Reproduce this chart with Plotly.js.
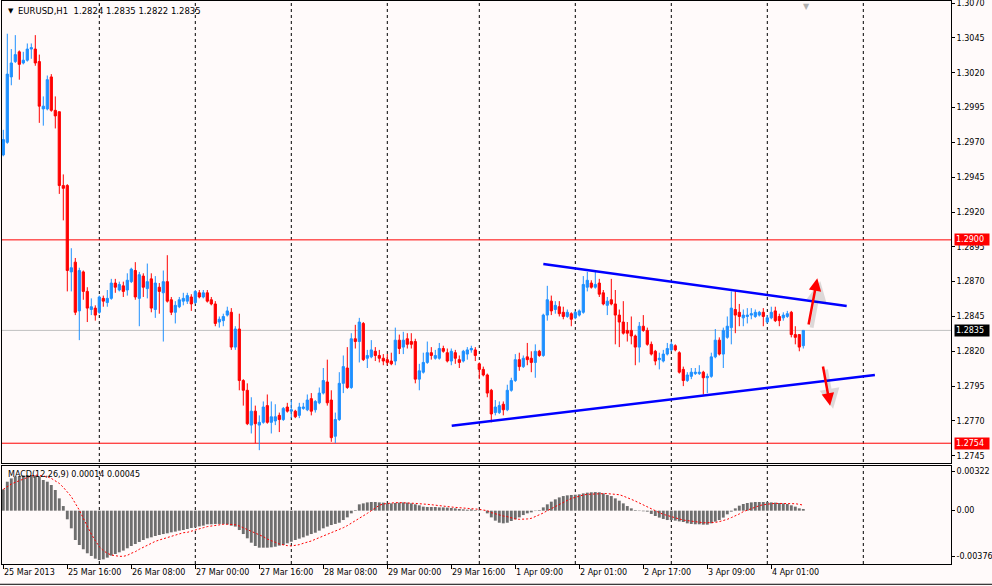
<!DOCTYPE html>
<html><head><meta charset="utf-8">
<script src="https://cdn.plot.ly/plotly-3.0.1.min.js"></script>
<style>html,body{margin:0;padding:0;background:#fffafa;}#chart{width:992px;height:586px;}</style>
</head><body><div id="chart"></div>
<script>
// ---- EURUSD H1 candles (25 Mar 2013 00:00 .. 4 Apr 2013 09:00) ----
const openP = [1.2961,1.2970,1.3017,1.3028,1.3035,1.3027,1.3029,1.3037,1.3037,1.3028,
1.2994,1.2994,1.3017,1.2993,1.2992,1.2939,1.2939,1.2877,1.2884,1.2849,
1.2877,1.2863,1.2850,1.2851,1.2848,1.2858,1.2855,1.2858,1.2869,1.2864,
1.2867,1.2864,1.2870,1.2878,1.2858,1.2874,1.2865,1.2872,1.2850,1.2866,
1.2862,1.2870,1.2857,1.2848,1.2852,1.2856,1.2856,1.2859,1.2855,1.2862,
1.2859,1.2862,1.2857,1.2854,1.2841,1.2842,1.2846,1.2848,1.2823,1.2836,
1.2799,1.2792,1.2767,1.2777,1.2767,1.2769,1.2781,1.2769,1.2770,1.2774,
1.2771,1.2780,1.2777,1.2777,1.2774,1.2779,1.2778,1.2786,1.2778,1.2783,
1.2790,1.2798,1.2785,1.2759,1.2771,1.2797,1.2808,1.2794,1.2829,1.2827,
1.2840,1.2815,1.2816,1.2820,1.2817,1.2815,1.2814,1.2813,1.2813,1.2828,
1.2823,1.2829,1.2827,1.2827,1.2800,1.2805,1.2812,1.2819,1.2815,1.2815,
1.2822,1.2819,1.2813,1.2819,1.2814,1.2813,1.2818,1.2821,1.2821,1.2811,
1.2807,1.2803,1.2792,1.2776,1.2776,1.2782,1.2778,1.2792,1.2799,1.2814,
1.2809,1.2816,1.2815,1.2812,1.2820,1.2817,1.2846,1.2856,1.2850,1.2852,
1.2848,1.2845,1.2847,1.2844,1.2846,1.2848,1.2866,1.2869,1.2866,1.2869,
1.2862,1.2853,1.2857,1.2854,1.2846,1.2841,1.2835,1.2835,1.2831,1.2823,
1.2838,1.2835,1.2825,1.2820,1.2814,1.2813,1.2818,1.2821,1.2824,1.2819,
1.2807,1.2799,1.2802,1.2804,1.2804,1.2805,1.2801,1.2802,1.2816,1.2828,
1.2818,1.2830,1.2837,1.2850,1.2848,1.2844,1.2845,1.2846,1.2845,1.2846,
1.2848,1.2841,1.2844,1.2849,1.2845,1.2844,1.2845,1.2848,1.2832,1.2832,
1.2824];
const highP = [1.2979,1.3048,1.3037,1.3047,1.3036,1.3035,1.3041,1.3041,1.3047,1.3033,
1.3003,1.3018,1.3019,1.3003,1.2992,1.2947,1.2940,1.2894,1.2887,1.2880,
1.2878,1.2866,1.2858,1.2853,1.2860,1.2860,1.2864,1.2872,1.2872,1.2870,
1.2870,1.2876,1.2880,1.2884,1.2877,1.2876,1.2883,1.2876,1.2874,1.2869,
1.2878,1.2889,1.2859,1.2856,1.2859,1.2862,1.2862,1.2861,1.2864,1.2864,
1.2864,1.2864,1.2859,1.2856,1.2845,1.2847,1.2852,1.2851,1.2838,1.2847,
1.2800,1.2797,1.2787,1.2781,1.2774,1.2784,1.2789,1.2784,1.2782,1.2776,
1.2780,1.2783,1.2785,1.2778,1.2783,1.2783,1.2789,1.2790,1.2785,1.2794,
1.2808,1.2814,1.2792,1.2776,1.2805,1.2817,1.2823,1.2833,1.2839,1.2844,
1.2841,1.2821,1.2828,1.2823,1.2821,1.2818,1.2818,1.2819,1.2837,1.2832,
1.2834,1.2833,1.2833,1.2829,1.2811,1.2819,1.2827,1.2823,1.2821,1.2826,
1.2824,1.2822,1.2822,1.2821,1.2817,1.2821,1.2823,1.2824,1.2823,1.2812,
1.2809,1.2804,1.2793,1.2785,1.2784,1.2784,1.2796,1.2801,1.2818,1.2819,
1.2817,1.2826,1.2820,1.2825,1.2821,1.2847,1.2867,1.2860,1.2856,1.2856,
1.2852,1.2850,1.2848,1.2849,1.2850,1.2874,1.2877,1.2871,1.2878,1.2872,
1.2864,1.2859,1.2872,1.2864,1.2850,1.2856,1.2841,1.2845,1.2832,1.2841,
1.2846,1.2837,1.2827,1.2821,1.2819,1.2821,1.2826,1.2827,1.2825,1.2820,
1.2809,1.2805,1.2808,1.2808,1.2810,1.2806,1.2804,1.2819,1.2836,1.2830,
1.2837,1.2845,1.2863,1.2864,1.2854,1.2850,1.2851,1.2851,1.2850,1.2849,
1.2851,1.2846,1.2852,1.2852,1.2847,1.2848,1.2849,1.2849,1.2838,1.2832,
1.2835];
const lowP = [1.2960,1.2969,1.3011,1.3027,1.3015,1.3026,1.3028,1.3030,1.3025,1.2984,
1.2982,1.2993,1.2992,1.2980,1.2933,1.2914,1.2863,1.2863,1.2846,1.2828,
1.2857,1.2841,1.2846,1.2842,1.2847,1.2852,1.2852,1.2857,1.2862,1.2863,
1.2859,1.2860,1.2869,1.2857,1.2838,1.2859,1.2858,1.2848,1.2844,1.2847,
1.2827,1.2855,1.2846,1.2840,1.2851,1.2853,1.2854,1.2849,1.2854,1.2858,
1.2858,1.2855,1.2853,1.2838,1.2837,1.2838,1.2845,1.2821,1.2821,1.2792,
1.2781,1.2767,1.2761,1.2754,1.2749,1.2768,1.2768,1.2761,1.2767,1.2762,
1.2770,1.2776,1.2772,1.2772,1.2772,1.2778,1.2777,1.2774,1.2776,1.2782,
1.2789,1.2781,1.2755,1.2754,1.2770,1.2790,1.2793,1.2793,1.2822,1.2812,
1.2813,1.2808,1.2815,1.2813,1.2812,1.2810,1.2810,1.2810,1.2810,1.2818,
1.2818,1.2822,1.2822,1.2797,1.2792,1.2804,1.2811,1.2814,1.2814,1.2814,
1.2819,1.2812,1.2810,1.2811,1.2808,1.2812,1.2814,1.2819,1.2813,1.2800,
1.2802,1.2787,1.2769,1.2774,1.2775,1.2774,1.2777,1.2791,1.2798,1.2806,
1.2808,1.2810,1.2805,1.2801,1.2816,1.2816,1.2842,1.2846,1.2847,1.2845,
1.2843,1.2844,1.2838,1.2843,1.2845,1.2847,1.2863,1.2865,1.2865,1.2859,
1.2853,1.2846,1.2853,1.2825,1.2823,1.2832,1.2827,1.2825,1.2810,1.2812,
1.2834,1.2824,1.2817,1.2810,1.2807,1.2812,1.2817,1.2820,1.2820,1.2804,
1.2795,1.2798,1.2800,1.2803,1.2803,1.2789,1.2790,1.2801,1.2815,1.2817,
1.2808,1.2829,1.2825,1.2833,1.2838,1.2838,1.2840,1.2843,1.2844,1.2845,
1.2838,1.2840,1.2843,1.2841,1.2838,1.2842,1.2844,1.2830,1.2825,1.2820,
1.2822];
const closeP = [1.2972,1.3019,1.3027,1.3033,1.3026,1.3029,1.3037,1.3038,1.3027,1.2996,
1.2996,1.3015,1.2993,1.2989,1.2939,1.2937,1.2878,1.2880,1.2848,1.2878,
1.2863,1.2851,1.2852,1.2846,1.2859,1.2856,1.2858,1.2869,1.2866,1.2868,
1.2863,1.2871,1.2879,1.2859,1.2875,1.2866,1.2870,1.2851,1.2869,1.2863,
1.2870,1.2856,1.2848,1.2853,1.2857,1.2858,1.2860,1.2854,1.2863,1.2859,
1.2862,1.2856,1.2854,1.2840,1.2843,1.2845,1.2849,1.2823,1.2836,1.2799,
1.2792,1.2768,1.2777,1.2768,1.2769,1.2780,1.2769,1.2773,1.2773,1.2771,
1.2779,1.2777,1.2778,1.2773,1.2780,1.2780,1.2785,1.2777,1.2784,1.2790,
1.2799,1.2783,1.2758,1.2771,1.2797,1.2809,1.2794,1.2829,1.2827,1.2841,
1.2814,1.2817,1.2821,1.2817,1.2815,1.2813,1.2812,1.2811,1.2828,1.2822,
1.2828,1.2825,1.2825,1.2800,1.2806,1.2812,1.2819,1.2817,1.2817,1.2822,
1.2820,1.2813,1.2820,1.2815,1.2812,1.2820,1.2821,1.2822,1.2817,1.2807,
1.2803,1.2790,1.2775,1.2780,1.2781,1.2778,1.2792,1.2799,1.2814,1.2809,
1.2815,1.2814,1.2812,1.2820,1.2817,1.2846,1.2857,1.2849,1.2853,1.2847,
1.2845,1.2848,1.2843,1.2848,1.2849,1.2868,1.2871,1.2866,1.2868,1.2861,
1.2854,1.2856,1.2854,1.2846,1.2841,1.2833,1.2833,1.2831,1.2823,1.2838,
1.2835,1.2825,1.2818,1.2813,1.2815,1.2818,1.2822,1.2825,1.2821,1.2805,
1.2799,1.2803,1.2805,1.2805,1.2805,1.2801,1.2802,1.2816,1.2828,1.2818,
1.2835,1.2838,1.2851,1.2846,1.2845,1.2846,1.2846,1.2847,1.2848,1.2848,
1.2845,1.2844,1.2848,1.2842,1.2842,1.2846,1.2847,1.2832,1.2830,1.2823,
1.2835];

// ---- MACD(12,26,9): main (histogram) and signal ----
const macdMain = [0.00175,0.00238,0.00265,0.00279,0.00285,0.00290,0.00293,0.00293,0.00290,0.00279,
0.00252,0.00238,0.00211,0.00170,0.00101,0.00038,-0.00071,-0.00145,-0.00241,-0.00282,
-0.00317,-0.00350,-0.00372,-0.00394,-0.00405,-0.00400,-0.00386,-0.00369,-0.00356,-0.00342,
-0.00328,-0.00309,-0.00290,-0.00274,-0.00257,-0.00241,-0.00227,-0.00219,-0.00208,-0.00200,
-0.00192,-0.00186,-0.00178,-0.00172,-0.00164,-0.00159,-0.00151,-0.00142,-0.00137,-0.00129,
-0.00123,-0.00112,-0.00112,-0.00109,-0.00109,-0.00109,-0.00112,-0.00123,-0.00131,-0.00159,
-0.00192,-0.00227,-0.00263,-0.00290,-0.00304,-0.00304,-0.00304,-0.00301,-0.00296,-0.00287,
-0.00282,-0.00268,-0.00255,-0.00241,-0.00230,-0.00219,-0.00205,-0.00192,-0.00181,-0.00164,
-0.00145,-0.00131,-0.00118,-0.00109,-0.00099,-0.00077,-0.00055,-0.00022,0.00005,0.00052,
0.00060,0.00068,0.00071,0.00071,0.00068,0.00066,0.00060,0.00060,0.00063,0.00066,
0.00068,0.00066,0.00060,0.00052,0.00044,0.00033,0.00030,0.00030,0.00030,0.00027,
0.00027,0.00025,0.00022,0.00019,0.00014,0.00011,0.00008,0.00011,0.00005,0.00003,
-0.00001,-0.00022,-0.00055,-0.00082,-0.00099,-0.00104,-0.00099,-0.00085,-0.00071,-0.00055,
-0.00036,-0.00022,-0.00014,-0.00003,0.00005,0.00027,0.00052,0.00074,0.00093,0.00109,
0.00120,0.00126,0.00129,0.00131,0.00134,0.00142,0.00148,0.00151,0.00153,0.00151,
0.00142,0.00129,0.00120,0.00101,0.00082,0.00060,0.00038,0.00019,0.00005,-0.00003,
-0.00005,-0.00008,-0.00027,-0.00044,-0.00057,-0.00068,-0.00077,-0.00077,-0.00082,-0.00088,
-0.00093,-0.00104,-0.00109,-0.00112,-0.00112,-0.00115,-0.00115,-0.00104,-0.00090,-0.00077,
-0.00057,-0.00030,-0.00008,0.00019,0.00041,0.00055,0.00063,0.00068,0.00071,0.00071,
0.00071,0.00071,0.00068,0.00066,0.00063,0.00060,0.00055,0.00044,0.00033,0.00019,
0.00014];
const macdSignal = [0.00175,0.00197,0.00219,0.00233,0.00246,0.00260,0.00274,0.00285,0.00293,0.00290,
0.00287,0.00279,0.00265,0.00246,0.00224,0.00192,0.00156,0.00115,0.00060,0.00005,
-0.00063,-0.00131,-0.00192,-0.00246,-0.00296,-0.00328,-0.00350,-0.00364,-0.00372,-0.00375,
-0.00375,-0.00367,-0.00350,-0.00337,-0.00317,-0.00301,-0.00282,-0.00268,-0.00252,-0.00241,
-0.00230,-0.00219,-0.00208,-0.00197,-0.00186,-0.00181,-0.00178,-0.00170,-0.00159,-0.00148,
-0.00140,-0.00131,-0.00126,-0.00120,-0.00115,-0.00112,-0.00112,-0.00112,-0.00115,-0.00126,
-0.00140,-0.00153,-0.00167,-0.00181,-0.00194,-0.00213,-0.00233,-0.00249,-0.00260,-0.00274,
-0.00282,-0.00287,-0.00290,-0.00287,-0.00279,-0.00268,-0.00260,-0.00249,-0.00235,-0.00222,
-0.00208,-0.00194,-0.00178,-0.00164,-0.00153,-0.00140,-0.00123,-0.00104,-0.00085,-0.00066,
-0.00044,-0.00022,0.00000,0.00025,0.00044,0.00055,0.00060,0.00063,0.00066,0.00066,
0.00066,0.00066,0.00063,0.00060,0.00057,0.00052,0.00052,0.00049,0.00044,0.00041,
0.00038,0.00033,0.00030,0.00027,0.00025,0.00022,0.00019,0.00016,0.00014,0.00011,
0.00005,0.00000,-0.00016,-0.00027,-0.00036,-0.00044,-0.00049,-0.00060,-0.00068,-0.00071,
-0.00071,-0.00068,-0.00063,-0.00049,-0.00036,-0.00019,0.00000,0.00016,0.00033,0.00049,
0.00066,0.00085,0.00101,0.00109,0.00120,0.00129,0.00134,0.00137,0.00140,0.00140,
0.00140,0.00140,0.00137,0.00134,0.00131,0.00120,0.00109,0.00093,0.00079,0.00063,
0.00047,0.00027,0.00011,-0.00003,-0.00016,-0.00030,-0.00041,-0.00049,-0.00057,-0.00068,
-0.00077,-0.00082,-0.00088,-0.00093,-0.00096,-0.00099,-0.00099,-0.00099,-0.00096,-0.00090,
-0.00082,-0.00071,-0.00057,-0.00044,-0.00027,-0.00008,0.00005,0.00019,0.00033,0.00041,
0.00049,0.00055,0.00057,0.00060,0.00060,0.00060,0.00060,0.00060,0.00057,0.00052,
0.00045];

// ---- time axis ----
const timeLabelBars = [0,16,32,48,64,80,96,112,128,144,160,176,192];
const timeLabels = ["25 Mar 2013","25 Mar 16:00","26 Mar 08:00","27 Mar 00:00","27 Mar 16:00",
  "28 Mar 08:00","29 Mar 00:00","29 Mar 16:00","1 Apr 09:00","2 Apr 01:00","2 Apr 17:00",
  "3 Apr 09:00","4 Apr 01:00"];
const daySeparatorBars = [24,48,72,96,119,143,167,191,215];

// ---- price axis & levels ----
const priceTicks = [1.3070,1.3045,1.3020,1.2995,1.2970,1.2945,1.2920,1.2895,1.2870,1.2845,1.2820,1.2795,1.2770,1.2745];
const macdTicks = [0.00322, 0.0, -0.00376];
const macdTickText = ["0.00322","0.00","-0.00376"];
const resistanceLevel = 1.2900;
const supportLevel = 1.2754;
const bidLevel = 1.2835;

// ---- drawn objects: triangle lines and arrows (bar index, price) ----
const upperLineX = [135.0, 210.85];
const upperLineY = [1.28826, 1.28525];
const lowerLineX = [112.1, 217.9];
const lowerLineY = [1.27666, 1.28030];
const upArrowTail = [201.25, 1.28381], upArrowHead = [203.5, 1.28724];
const downArrowTail = [204.85, 1.28101], downArrowHead = [206.7, 1.27809];

const n = closeP.length;
const idx = closeP.map((_, i) => i);
const last = n - 1;
const FONT = 'DejaVu Sans, Liberation Sans, sans-serif';

const traces = [
  { type: 'candlestick', x: idx, open: openP, high: highP, low: lowP, close: closeP,
    xaxis: 'x', yaxis: 'y', whiskerwidth: 0, hoverinfo: 'skip',
    increasing: { line: { color: '#1e90ff', width: 1 }, fillcolor: '#1e90ff' },
    decreasing: { line: { color: '#ff0000', width: 1 }, fillcolor: '#ff0000' } },
  { type: 'scatter', mode: 'lines', x: upperLineX, y: upperLineY, xaxis: 'x', yaxis: 'y',
    line: { color: '#0000ff', width: 2.5 }, hoverinfo: 'skip' },
  { type: 'scatter', mode: 'lines', x: lowerLineX, y: lowerLineY, xaxis: 'x', yaxis: 'y',
    line: { color: '#0000ff', width: 2.5 }, hoverinfo: 'skip' },
  { type: 'bar', x: idx, y: macdMain, xaxis: 'x2', yaxis: 'y2', width: 0.72,
    marker: { color: '#6e6e6e', line: { width: 0 } }, hoverinfo: 'skip' },
  { type: 'scatter', mode: 'lines', x: idx, y: macdSignal, xaxis: 'x2', yaxis: 'y2',
    line: { color: '#ff0000', width: 1, dash: '2px,2px' }, hoverinfo: 'skip' }
];

const shapes = [];
daySeparatorBars.forEach(b => shapes.push({ type: 'line', xref: 'x', yref: 'paper', x0: b, x1: b, y0: 0, y1: 1,
  line: { color: '#000', width: 1, dash: '3px,3px' }, layer: 'below' }));
[[resistanceLevel, '#ff0000'], [supportLevel, '#ff0000'], [bidLevel, '#c0c0c0']].forEach(([v, c]) =>
  shapes.push({ type: 'line', xref: 'paper', yref: 'y', x0: 0, x1: 1, y0: v, y1: v,
    line: { color: c, width: 1 }, layer: 'below' }));
shapes.push({ type: 'line', xref: 'paper', yref: 'paper', x0: -0.01, x1: 1.05, y0: -0.036, y1: -0.036,
  line: { color: '#000', width: 1 } });

const annotations = [];
// chart header
annotations.push({ xref: 'paper', yref: 'paper', x: 0, y: 1, xanchor: 'left', yanchor: 'top', xshift: 4, yshift: -4,
  text: '▼', showarrow: false, font: { family: FONT, size: 7, color: '#000' } });
annotations.push({ xref: 'paper', yref: 'paper', x: 0, y: 1, xanchor: 'left', yanchor: 'top', xshift: 14, yshift: -3,
  text: 'EURUSD,H1  ' + openP[last].toFixed(4) + ' ' + highP[last].toFixed(4) + ' ' + lowP[last].toFixed(4) + ' ' + closeP[last].toFixed(4),
  showarrow: false, font: { family: FONT, size: 8.5, color: '#000' } });
annotations.push({ xref: 'paper', yref: 'y2', x: 0, y: 0.00367, xanchor: 'left', yanchor: 'top', xshift: 4, yshift: -2,
  text: 'MACD(12,26,9) ' + macdMain[last].toFixed(5) + ' ' + macdSignal[last].toFixed(5),
  showarrow: false, font: { family: FONT, size: 8, color: '#000' } });
// shift marker
annotations.push({ xref: 'x', yref: 'paper', x: last + 0.7, y: 1, yanchor: 'top', yshift: 1,
  text: '▼', showarrow: false, font: { family: FONT, size: 8, color: '#b0b0b0' } });
// time labels
timeLabelBars.forEach((b, k) => annotations.push({ xref: 'x2', yref: 'paper', x: b, y: 0, xanchor: 'left', yanchor: 'top',
  xshift: -1, yshift: -2, text: timeLabels[k], showarrow: false, font: { family: FONT, size: 8, color: '#000' } }));
// price tags
[[resistanceLevel, '#ff0000'], [bidLevel, '#000000'], [supportLevel, '#ff0000']].forEach(([v, c]) =>
  annotations.push({ xref: 'paper', yref: 'y', x: 1, y: v, xanchor: 'left', yanchor: 'middle', xshift: 3,
    text: v.toFixed(4), showarrow: false, bgcolor: c, borderpad: 1, width: 32, align: 'left',
    font: { family: FONT, size: 8, color: '#ffffff' } }));
// arrows (soft shadow + red)
[[upArrowTail, upArrowHead], [downArrowTail, downArrowHead]].forEach(([t, h]) => {
  annotations.push({ xref: 'x', yref: 'y', axref: 'x', ayref: 'y', x: h[0], y: h[1], ax: t[0], ay: t[1],
    xshift: 3, yshift: -3, text: '', showarrow: true, arrowhead: 2, arrowsize: 1, arrowwidth: 4,
    arrowcolor: 'rgba(0,0,0,0.13)' });
  annotations.push({ xref: 'x', yref: 'y', axref: 'x', ayref: 'y', x: h[0], y: h[1], ax: t[0], ay: t[1],
    text: '', showarrow: true, arrowhead: 2, arrowsize: 1, arrowwidth: 2.5, arrowcolor: '#ff0000' });
});

const xRange = [-0.325, 236.925];
const layout = {
  width: 992, height: 586,
  margin: { l: 2, r: 41, t: 1, b: 22 },
  paper_bgcolor: '#fffafa', plot_bgcolor: '#fffafa',
  showlegend: false, boxgap: 0.45, boxgroupgap: 0,
  font: { family: FONT, size: 8, color: '#000' },
  xaxis: { domain: [0, 1], anchor: 'y', range: xRange, showgrid: false, zeroline: false,
    showticklabels: false, ticks: '', showline: true, mirror: true, linecolor: '#000', linewidth: 1,
    rangeslider: { visible: false }, fixedrange: true },
  yaxis: { domain: [0.1794, 1], anchor: 'x', side: 'right', range: [1.27398, 1.30715],
    tickvals: priceTicks, ticktext: priceTicks.map(v => v.toFixed(4)), ticklabeloverflow: 'allow',
    ticks: 'outside', ticklen: 3, tickcolor: '#000', showline: true, mirror: true, linecolor: '#000',
    showgrid: false, zeroline: false, tickfont: { family: FONT, size: 8, color: '#000' } },
  xaxis2: { domain: [0, 1], anchor: 'y2', range: xRange, showgrid: false, zeroline: false,
    tickvals: timeLabelBars, ticks: 'outside', ticklen: 4, tickcolor: '#000', showticklabels: false,
    showline: true, mirror: true, linecolor: '#000', linewidth: 1 },
  yaxis2: { domain: [0, 0.1741], anchor: 'x2', side: 'right', range: [-0.00438, 0.00367],
    tickvals: macdTicks, ticktext: macdTickText, ticklabeloverflow: 'allow',
    ticks: 'outside', ticklen: 3, tickcolor: '#000', showline: true, mirror: true, linecolor: '#000',
    showgrid: false, zeroline: false, tickfont: { family: FONT, size: 8, color: '#000' } },
  shapes: shapes,
  annotations: annotations
};

Plotly.newPlot('chart', traces, layout, { staticPlot: true, displayModeBar: false });
</script>
</body></html>
